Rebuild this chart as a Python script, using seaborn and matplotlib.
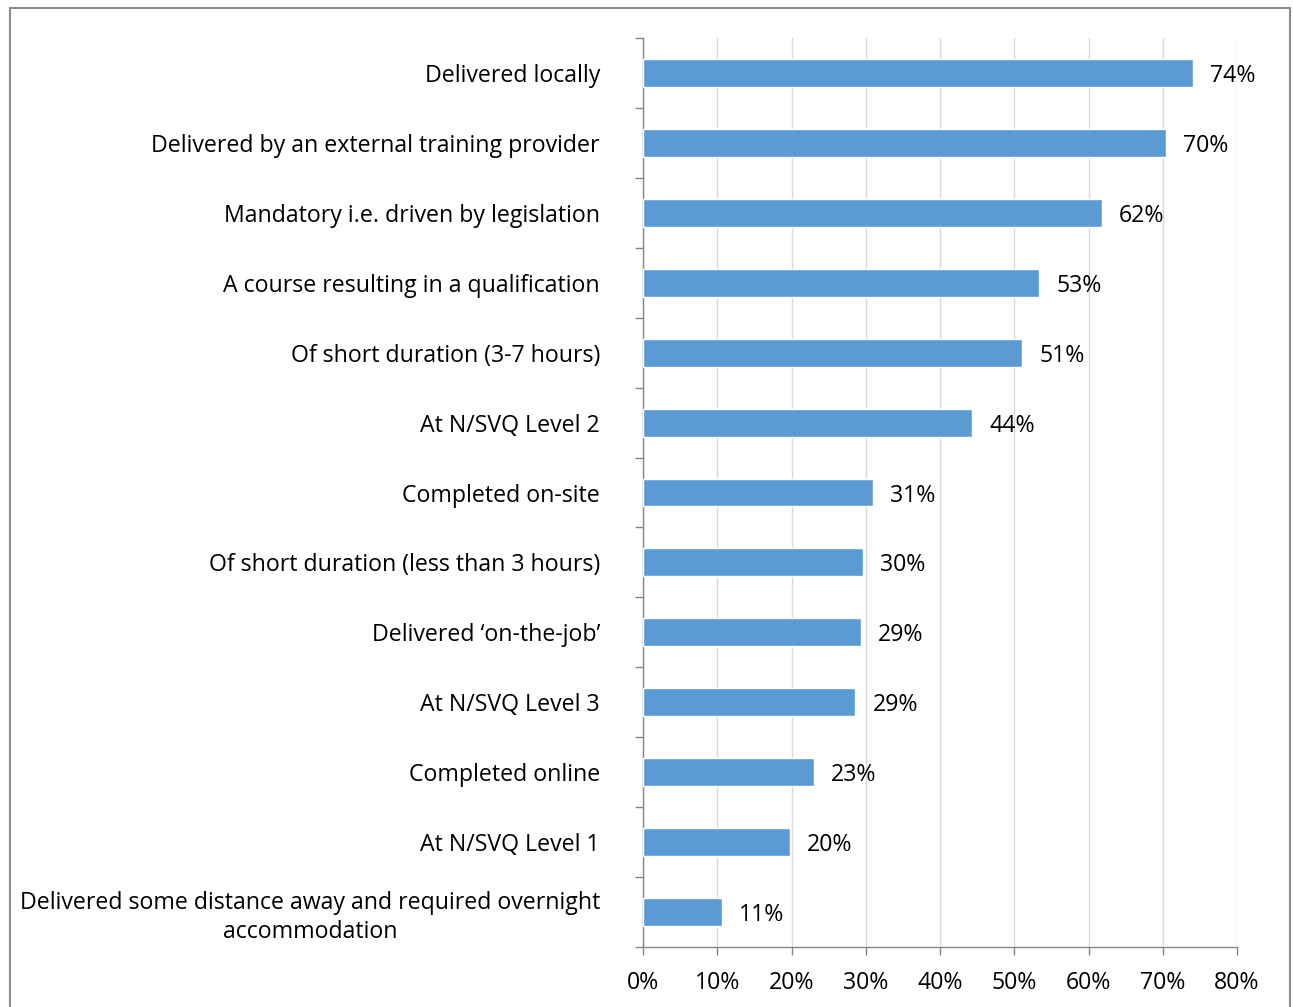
import matplotlib
matplotlib.use("Agg")
import matplotlib.pyplot as plt
from matplotlib.patches import Rectangle
import pandas as pd
import seaborn as sns

categories = [
    "Delivered locally",
    "Delivered by an external training provider",
    "Mandatory i.e. driven by legislation",
    "A course resulting in a qualification",
    "Of short duration (3-7 hours)",
    "At N/SVQ Level 2",
    "Completed on-site",
    "Of short duration (less than 3 hours)",
    "Delivered \u2018on-the-job\u2019",
    "At N/SVQ Level 3",
    "Completed online",
    "At N/SVQ Level 1",
    "Delivered some distance away and required overnight\naccommodation",
]
values = [74.1, 70.4, 61.8, 53.4, 51.1, 44.3, 31.0, 29.6, 29.3, 28.6, 23.0, 19.8, 10.6]
xticks = [0, 10, 20, 30, 40, 50, 60, 70, 80]

sns.set_theme(style="white")
plt.rcParams["font.family"] = ["Open Sans", "DejaVu Sans"]
plt.rcParams["text.color"] = "black"
plt.rcParams["xtick.color"] = "black"
plt.rcParams["ytick.color"] = "black"

BAR = "#5B9BD5"
AXIS = "#868686"
GRID = "#D9D9D9"
FS = 16.7

df = pd.DataFrame({"cat": categories, "val": values})

fig = plt.figure(figsize=(12.93, 10.07), dpi=100)
ax = fig.add_axes([643 / 1293, 1 - 947 / 1007, 594 / 1293, 909 / 1007])

sns.barplot(data=df, y="cat", x="val", orient="h", color=BAR, width=0.4,
            saturation=1, ax=ax, zorder=3)

ax.set_xlim(0, 80)
ax.set_ylim(len(categories) - 0.5, -0.5)
ax.set_xticks(xticks)
ax.set_xticklabels([f"{t}%" for t in xticks], fontsize=FS)
ax.set_xlabel("")
ax.set_ylabel("")
ax.grid(axis="x", color=GRID, linewidth=1, zorder=0)
ax.grid(axis="y", visible=False)

# excel style ticks between categories
ax.set_yticks([i - 0.5 for i in range(len(categories) + 1)], minor=True)
ax.tick_params(axis="y", which="major", left=False, length=0, pad=31, labelsize=FS)
ax.tick_params(axis="y", which="minor", left=True, length=5.5, color=AXIS, width=1)
ax.tick_params(axis="x", which="major", bottom=True, length=5.5, color=AXIS, width=1,
               pad=12, labelcolor="black")
for lbl in ax.get_yticklabels():
    lbl.set_multialignment("center")
    lbl.set_linespacing(1.3)
    lbl.set_color("black")

for s in ["top", "right"]:
    ax.spines[s].set_visible(False)
for s in ["left", "bottom"]:
    ax.spines[s].set_color(AXIS)
    ax.spines[s].set_linewidth(1)

for i, v in enumerate(values):
    ax.text(v + 2.3, i, f"{round(v)}%", va="center_baseline", ha="left", fontsize=FS,
            color="black")

fig.patches.append(Rectangle((10 / 1293, -0.02), 1280 / 1293, 1 - 8 / 1007 + 0.02,
                             transform=fig.transFigure, fill=False,
                             edgecolor="#8C8C8C", linewidth=1.5))

fig.savefig("out.png", dpi=100)
